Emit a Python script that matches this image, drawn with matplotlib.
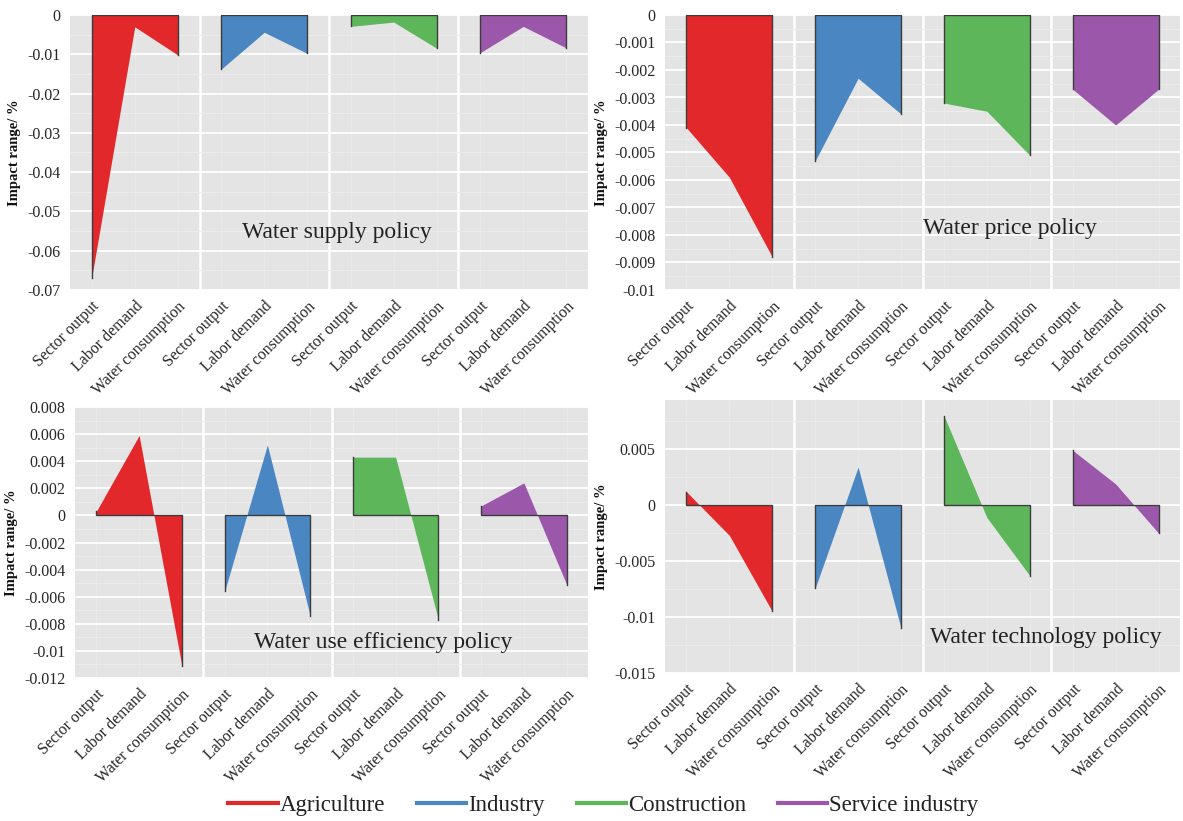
import matplotlib
matplotlib.use("Agg")
import matplotlib.pyplot as plt
from matplotlib.lines import Line2D
from matplotlib.ticker import FixedLocator, FuncFormatter, MultipleLocator

# Indicators shown for every sector
indicators = ["Sector output", "Labor demand", "Water consumption"]
sectors = ["Agriculture", "Industry", "Construction", "Service industry"]
sector_colors = ["#E3282B", "#4A86C1", "#5DB65A", "#9B58AB"]

# Impact range (%) per policy, per sector: [sector output, labor demand, water consumption]
supply_agri = [-0.067, -0.003, -0.0102]
supply_ind = [-0.0138, -0.0044, -0.0098]
supply_con = [-0.0029, -0.0018, -0.0085]
supply_svc = [-0.0096, -0.0029, -0.0084]

price_agri = [-0.0041, -0.0059, -0.0088]
price_ind = [-0.0053, -0.0023, -0.0036]
price_con = [-0.0032, -0.0035, -0.0051]
price_svc = [-0.0027, -0.0040, -0.0027]

eff_agri = [0.0003, 0.0059, -0.0111]
eff_ind = [-0.0056, 0.0052, -0.0074]
eff_con = [0.0043, 0.0043, -0.0077]
eff_svc = [0.0007, 0.0024, -0.0051]

tech_agri = [0.0012, -0.0027, -0.0095]
tech_ind = [-0.0074, 0.0034, -0.0110]
tech_con = [0.0080, -0.0011, -0.0063]
tech_svc = [0.0049, 0.0019, -0.0025]

policy_titles = ["Water supply policy", "Water price policy",
                 "Water use efficiency policy", "Water technology policy"]

plt.rcParams["font.family"] = ["Liberation Serif", "DejaVu Serif"]

fig = plt.figure(figsize=(11.83, 8.21), dpi=100)
W, H = 1183, 821


def px_axes(l, t, r, b):
    return fig.add_axes([l / W, 1 - b / H, (r - l) / W, (b - t) / H])


panels = [
    dict(box=(70, 15, 588, 290), data=[supply_agri, supply_ind, supply_con, supply_svc],
         ylim=(-0.07, 0.0), major=0.01, minor=0.005, ticks=None, txt=(0.515, 0.21)),
    dict(box=(665, 15, 1180, 290), data=[price_agri, price_ind, price_con, price_svc],
         ylim=(-0.01, 0.0), major=0.001, minor=0.0005, ticks=None, txt=(0.67, 0.225)),
    dict(box=(75, 407, 588, 678), data=[eff_agri, eff_ind, eff_con, eff_svc],
         ylim=(-0.012, 0.008), major=0.002, minor=0.001, ticks=None, txt=(0.60, 0.13)),
    dict(box=(665, 400, 1180, 673), data=[tech_agri, tech_ind, tech_con, tech_svc],
         ylim=(-0.015, 0.0094), major=0.005, minor=0.0025,
         ticks=[-0.015, -0.01, -0.005, 0.0, 0.005], txt=(0.74, 0.13)),
]


def fmt(v, _pos=None):
    if abs(v) < 1e-12:
        return "0"
    return f"{v:g}"


edge = "#3c3c3c"
text_col = "#262626"
for p, title in zip(panels, policy_titles):
    ax = px_axes(*p["box"])
    ax.set_facecolor("#E4E4E4")
    for s in ax.spines.values():
        s.set_visible(False)
    n = len(sectors) * len(indicators)
    ax.set_xlim(-0.5, n - 0.5)
    ax.set_ylim(*p["ylim"])

    # grid: white major lines, fainter minor lines
    if p["ticks"] is not None:
        ax.yaxis.set_major_locator(FixedLocator(p["ticks"]))
    else:
        ax.yaxis.set_major_locator(MultipleLocator(p["major"]))
    ax.yaxis.set_minor_locator(MultipleLocator(p["minor"]))
    ax.yaxis.set_major_formatter(FuncFormatter(fmt))
    ax.grid(axis="y", which="major", color="white", lw=1.3, zorder=0)
    ax.grid(axis="y", which="minor", color="#EDEDED", lw=0.7, zorder=0)
    ax.set_axisbelow(True)

    xs = list(range(n))
    for x in xs:
        ax.axvline(x, color="#EAEAEA", lw=0.6, zorder=0)
    for k in range(1, len(sectors)):
        ax.axvline(k * len(indicators) - 0.5, color="white", lw=1.8, zorder=0.5)

    for k, (vals, col) in enumerate(zip(p["data"], sector_colors)):
        gx = xs[k * 3:(k + 1) * 3]
        ax.fill_between(gx, vals, 0, color=col, lw=0, zorder=2)
        ax.plot([gx[0], gx[0], gx[-1], gx[-1]], [vals[0], 0, 0, vals[-1]],
                color=edge, lw=1.0, zorder=3, solid_joinstyle="miter")

    ax.set_xticks(xs)
    ax.set_xticklabels(indicators * len(sectors), rotation=45, ha="right",
                       rotation_mode="anchor", fontsize=11.5, color=text_col)
    ax.tick_params(axis="both", which="both", length=0, labelsize=11.5,
                   labelcolor=text_col)
    ax.tick_params(axis="x", pad=6)
    ax.tick_params(axis="y", pad=7)
    ax.set_ylabel("Impact range/ %", fontsize=10.5, fontweight="bold",
                  labelpad=4, color="#111111")

    ax.text(p["txt"][0], p["txt"][1], title, transform=ax.transAxes,
            ha="center", va="center", fontsize=17, color="#222222", zorder=4)

handles = [Line2D([], [], color=c, lw=3) for c in sector_colors]
fig.legend(handles, sectors, loc="center", bbox_to_anchor=(0.51, 0.019),
           ncol=4, frameon=False, fontsize=16.5, handlelength=2.15,
           handletextpad=0.08, columnspacing=1.4, labelcolor="#222222")

fig.savefig("out.png", dpi=100, facecolor="white")
